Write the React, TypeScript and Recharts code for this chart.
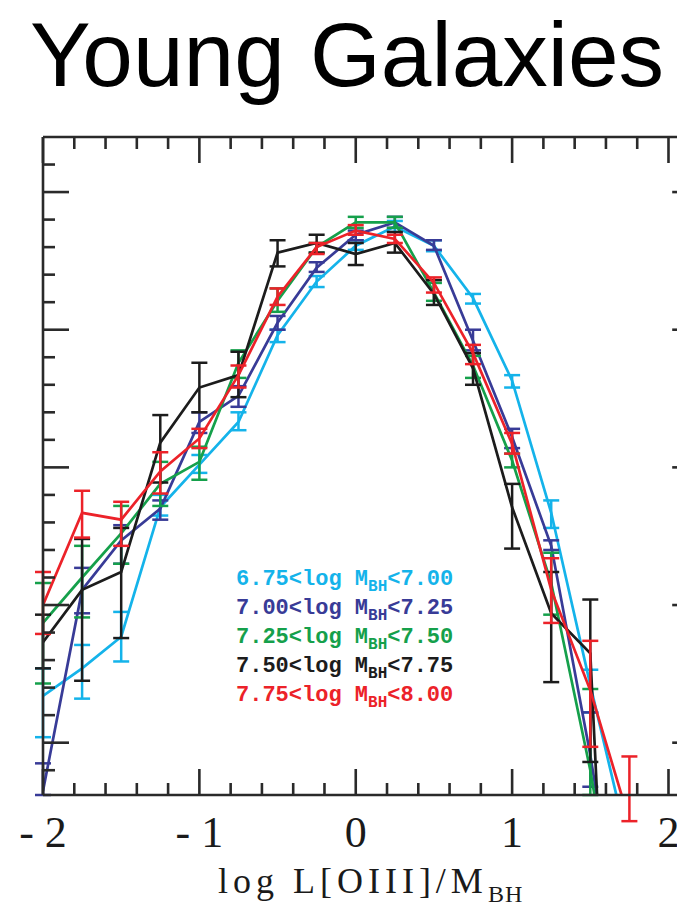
import React from 'react';
import { LineChart, Line, XAxis, YAxis, ErrorBar, Legend, Label } from 'recharts';

// Bin centres of log L[OIII]/M_BH
const LOG_L_OVER_M = [-2, -1.75, -1.5, -1.25, -1, -0.75, -0.5, -0.25, 0, 0.25, 0.5, 0.75, 1, 1.25, 1.5, 1.75];

// Black-hole mass bins (log M_BH)
const MBH_LOWER = ['6.75', '7.00', '7.25', '7.50', '7.75'];
const MBH_UPPER = ['7.00', '7.25', '7.50', '7.75', '8.00'];
const SERIES_KEYS = ['m675', 'm700', 'm725', 'm750', 'm775'];
const SERIES_COLORS = ['#14b3ea', '#383b97', '#15a04b', '#1c1c1c', '#ec2229'];

// log fraction per bin, with the upper / lower ends of each error bar
const frac675 = [-3.66, -3.46, -3.23, -2.29, -1.98, -1.67, -1.04, -0.65, -0.39, -0.25, -0.39, -0.77, -1.37, -2.33, -3.58, -4.78];
const hi675 = [-3.46, -3.29, -3.05, -2.2, -1.91, -1.6, -1.0, -0.61, -0.35, -0.21, -0.35, -0.74, -1.33, -2.24, -3.47, -4.78];
const lo675 = [-3.96, -3.68, -3.41, -2.35, -2.04, -1.73, -1.09, -0.69, -0.42, -0.29, -0.43, -0.81, -1.42, -2.44, -3.78, -4.78];

const frac700 = [-4.35, -2.89, -2.53, -2.3, -1.67, -1.48, -0.95, -0.55, -0.31, -0.22, -0.39, -1.08, -1.78, -2.57, -4.09, -5.87];
const hi700 = [-4.15, -2.73, -2.42, -2.24, -1.6, -1.41, -0.9, -0.51, -0.28, -0.18, -0.35, -1.0, -1.72, -2.53, -3.78, -5.87];
const lo700 = [-4.54, -3.06, -2.7, -2.38, -1.75, -1.56, -1.0, -0.58, -0.35, -0.26, -0.42, -1.15, -1.86, -2.6, -4.32, -5.87];

const frac725 = [-3.13, -2.8, -2.48, -2.12, -1.96, -1.24, -0.79, -0.4, -0.22, -0.22, -0.73, -1.26, -1.95, -2.84, -4.2, -5.87];
const hi725 = [-2.84, -2.57, -2.28, -1.96, -1.85, -1.15, -0.7, -0.37, -0.18, -0.18, -0.66, -1.19, -1.9, -2.62, -3.61, -5.87];
const lo725 = [-3.57, -3.09, -2.7, -2.28, -2.09, -1.35, -0.87, -0.44, -0.26, -0.26, -0.79, -1.35, -2.0, -3.07, -4.78, -5.87];

const frac750 = [-3.27, -2.89, -2.76, -1.82, -1.42, -1.33, -0.44, -0.37, -0.45, -0.37, -0.74, -1.28, -2.29, -3.06, -3.35, -9.3];
const hi750 = [-3.07, -2.52, -2.44, -1.62, -1.24, -1.16, -0.35, -0.31, -0.37, -0.29, -0.64, -1.17, -2.12, -2.76, -2.96, -9.3];
const lo750 = [-3.46, -3.55, -3.24, -2.11, -1.6, -1.49, -0.54, -0.44, -0.53, -0.44, -0.82, -1.4, -2.59, -3.56, -4.14, -9.3];

const frac775 = [-3.0, -2.33, -2.38, -2.03, -1.79, -1.33, -0.76, -0.4, -0.28, -0.34, -0.66, -1.17, -1.83, -2.89, -3.62, -4.57];
const hi775 = [-2.76, -2.17, -2.25, -1.89, -1.72, -1.26, -0.7, -0.37, -0.24, -0.31, -0.62, -1.11, -1.75, -2.66, -3.26, -4.1];
const lo775 = [-3.21, -2.51, -2.57, -2.19, -1.86, -1.42, -0.82, -0.45, -0.31, -0.37, -0.73, -1.25, -1.9, -3.13, -4.03, -5.07];

const SERIES_VALUES = [frac675, frac700, frac725, frac750, frac775];
const SERIES_HI = [hi675, hi700, hi725, hi750, hi775];
const SERIES_LO = [lo675, lo700, lo725, lo750, lo775];

// Axis ranges and tick positions
const X_DOMAIN: [number, number] = [-2, 2.19];
const Y_DOMAIN: [number, number] = [-4.38, 0.4];
const X_TICKS: number[] = [];
for (let i = -10; i <= 10; i++) X_TICKS.push(i / 5);
const Y_TICKS: number[] = [];
for (let i = -21; i <= 1; i++) Y_TICKS.push(i / 5);

// Error bars are cut at the bottom of the frame; bins lying wholly below it get none.
const errorFor = (v: number, lo: number, hi: number) => {
  const top = Math.min(hi, Y_DOMAIN[1]);
  if (top <= Y_DOMAIN[0]) return null;
  const bottom = Math.max(lo, Y_DOMAIN[0]);
  return [Math.max(0, +(v - bottom).toFixed(3)), Math.max(0, +(top - v).toFixed(3))];
};

const data = LOG_L_OVER_M.map((x, i) => {
  const row: Record<string, any> = { x };
  SERIES_KEYS.forEach((key, s) => {
    const v = SERIES_VALUES[s][i];
    row[key] = v;
    row[key + 'Err'] = errorFor(v, SERIES_LO[s][i], SERIES_HI[s][i]);
  });
  return row;
});

const AXIS_COLOR = '#2a2a2a';
const AXIS_W = 2.6;
const MAJOR_LEN = 26;
const MINOR_LEN = 12;
const isMajor = (v: number) => Math.abs(v - Math.round(v)) < 1e-6;

const BottomTick = (props: any) => {
  const { x, y, payload } = props;
  const v = payload.value;
  const major = isMajor(v);
  const text = v < 0 ? `- ${Math.abs(Math.round(v))}` : `${Math.round(v)}`;
  return (
    <g>
      <line x1={x} x2={x} y1={y} y2={y - (major ? MAJOR_LEN : MINOR_LEN)} stroke={AXIS_COLOR} strokeWidth={AXIS_W} />
      {major && (
        <text x={x} y={y + 52} textAnchor="middle" fontFamily='"Liberation Serif", serif' fontSize={44} fill="#1a1a1a">
          {text}
        </text>
      )}
    </g>
  );
};

const TopTick = (props: any) => {
  const { x, y, payload } = props;
  const len = isMajor(payload.value) ? MAJOR_LEN : MINOR_LEN;
  return <line x1={x} x2={x} y1={y} y2={y + len} stroke={AXIS_COLOR} strokeWidth={AXIS_W} />;
};

const LeftTick = (props: any) => {
  const { x, y, payload } = props;
  const len = isMajor(payload.value) ? MAJOR_LEN : MINOR_LEN;
  return <line x1={x} x2={x + len} y1={y} y2={y} stroke={AXIS_COLOR} strokeWidth={AXIS_W} />;
};

const RightTick = (props: any) => {
  const { x, y, payload } = props;
  const len = isMajor(payload.value) ? MAJOR_LEN : MINOR_LEN;
  return <line x1={x} x2={x - len} y1={y} y2={y} stroke={AXIS_COLOR} strokeWidth={AXIS_W} />;
};

const AxisTitle = (props: any) => {
  const vb = props.viewBox || { x: 43, y: 795, width: 655 };
  const cx = vb.x + vb.width / 2;
  return (
    <text x={cx} y={vb.y + 98} textAnchor="middle" fontFamily='"Liberation Serif", serif' fontSize={36} letterSpacing={5} fill="#1a1a1a">
      log L[OIII]/M
      <tspan fontSize={24} dy={9} letterSpacing={1}>BH</tspan>
    </text>
  );
};

const LegendBox = (props: any) => {
  const payload = props.payload || [];
  return (
    <div style={{ fontFamily: '"Liberation Mono", monospace', fontWeight: 'bold', fontSize: 22, lineHeight: '29px' }}>
      {payload.map((p: any) => {
        const s = SERIES_KEYS.indexOf(p.dataKey);
        return (
          <div key={p.dataKey} style={{ color: SERIES_COLORS[s], whiteSpace: 'nowrap', height: 29 }}>
            {MBH_LOWER[s]}&lt;log M
            <span style={{ fontSize: 16, position: 'relative', top: 6 }}>BH</span>
            &lt;{MBH_UPPER[s]}
          </div>
        );
      })}
    </div>
  );
};

export default function App() {
  return (
    <div style={{ position: 'absolute', left: 0, top: 0, width: 677, height: 914, overflow: 'hidden', background: '#fff' }}>
      <svg width={677} height={120} style={{ position: 'absolute', left: 0, top: 0 }}>
        <text x={30} y={86} fontFamily='"Liberation Sans", Arial, sans-serif' fontSize={91} fill="#000">
          Young Galaxies
        </text>
      </svg>
      <div style={{ position: 'absolute', left: 0, top: 0 }}>
        <LineChart width={700} height={914} data={data} margin={{ top: 136, right: 0.8, bottom: 0, left: 42 }}>
          <XAxis
            xAxisId="bottom"
            type="number"
            dataKey="x"
            domain={X_DOMAIN}
            allowDataOverflow
            ticks={X_TICKS}
            interval={0}
            height={119}
            tickSize={0}
            tickMargin={0}
            tickLine={false}
            tick={<BottomTick />}
            axisLine={{ stroke: AXIS_COLOR, strokeWidth: AXIS_W }}
          >
            <Label content={<AxisTitle />} position="bottom" />
          </XAxis>
          <XAxis
            xAxisId="top"
            orientation="top"
            type="number"
            dataKey="x"
            domain={X_DOMAIN}
            allowDataOverflow
            ticks={X_TICKS}
            interval={0}
            height={1}
            tickSize={0}
            tickMargin={0}
            tickLine={false}
            tick={<TopTick />}
            axisLine={{ stroke: AXIS_COLOR, strokeWidth: AXIS_W }}
          />
          <YAxis
            yAxisId="left"
            type="number"
            domain={Y_DOMAIN}
            allowDataOverflow
            ticks={Y_TICKS}
            interval={0}
            width={1}
            tickSize={0}
            tickMargin={0}
            tickLine={false}
            tick={<LeftTick />}
            axisLine={{ stroke: AXIS_COLOR, strokeWidth: AXIS_W }}
          />
          <YAxis
            yAxisId="right"
            orientation="right"
            type="number"
            domain={Y_DOMAIN}
            allowDataOverflow
            ticks={Y_TICKS}
            interval={0}
            width={1}
            tickSize={0}
            tickMargin={0}
            tickLine={false}
            tick={<RightTick />}
            axisLine={{ stroke: AXIS_COLOR, strokeWidth: AXIS_W }}
          />
          {SERIES_KEYS.map((key, s) => (
            <Line
              key={key}
              xAxisId="bottom"
              yAxisId="left"
              dataKey={key}
              name={`${MBH_LOWER[s]}<log M_BH<${MBH_UPPER[s]}`}
              stroke={SERIES_COLORS[s]}
              strokeWidth={2.7}
              dot={false}
              activeDot={false}
              isAnimationActive={false}
            >
              <ErrorBar dataKey={key + 'Err'} direction="y" width={8} stroke={SERIES_COLORS[s]} strokeWidth={2.5} isAnimationActive={false} />
            </Line>
          ))}
          <Legend
            layout="vertical"
            align="center"
            verticalAlign="middle"
            content={<LegendBox />}
            wrapperStyle={{ left: 236, top: 565, width: 260, height: 150 }}
          />
        </LineChart>
      </div>
    </div>
  );
}
